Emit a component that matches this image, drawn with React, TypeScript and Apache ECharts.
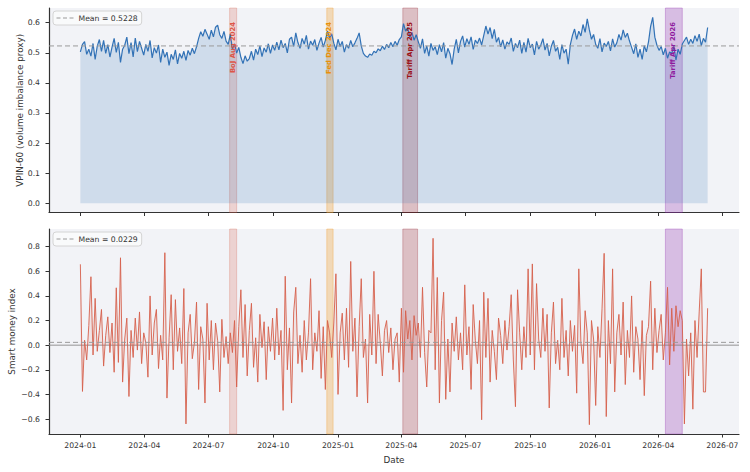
import React, { useEffect, useRef } from "react";
import * as echarts from "echarts";

// Observations every 3 calendar days starting 2024-01-01
const START_Y = 2024;
const START_M = 0;
const START_D = 1;
const STEP_DAYS = 3;

// VPIN-60 (volume imbalance proxy)
const vpin = [
  0.503, 0.528, 0.537, 0.495, 0.512, 0.489, 0.531, 0.478, 0.522, 0.544,
  0.505, 0.541, 0.498, 0.527, 0.486, 0.519, 0.548, 0.501, 0.535, 0.468,
  0.512, 0.525, 0.552, 0.497, 0.534, 0.486, 0.549, 0.504, 0.538, 0.515,
  0.492, 0.528, 0.505, 0.541, 0.483, 0.517, 0.499, 0.526, 0.468, 0.512,
  0.485, 0.502, 0.458, 0.495, 0.478, 0.510, 0.463, 0.498, 0.482, 0.505,
  0.475, 0.508, 0.492, 0.515, 0.497, 0.520, 0.548, 0.570, 0.555, 0.578,
  0.562, 0.545, 0.575, 0.553, 0.585, 0.592, 0.560, 0.548, 0.571, 0.539,
  0.528, 0.562, 0.512, 0.530, 0.499, 0.518, 0.485, 0.464, 0.490, 0.472,
  0.481, 0.505, 0.476, 0.512, 0.494, 0.523, 0.487, 0.516, 0.502, 0.530,
  0.498, 0.526, 0.508, 0.535, 0.510, 0.542, 0.517, 0.531, 0.500, 0.545,
  0.552, 0.521, 0.566, 0.534, 0.515, 0.548, 0.529, 0.558, 0.512, 0.539,
  0.525, 0.544, 0.508, 0.532, 0.551, 0.519, 0.541, 0.572, 0.548, 0.563,
  0.532, 0.510, 0.545, 0.521, 0.538, 0.502, 0.527, 0.515, 0.541, 0.520,
  0.533, 0.548, 0.566, 0.523, 0.498, 0.489, 0.485, 0.496, 0.492, 0.505,
  0.500, 0.513, 0.507, 0.522, 0.511, 0.528, 0.517, 0.534, 0.520, 0.538,
  0.525, 0.544, 0.553, 0.597, 0.572, 0.584, 0.551, 0.568, 0.542, 0.560,
  0.537, 0.515, 0.546, 0.498, 0.523, 0.489, 0.531, 0.508, 0.520, 0.494,
  0.527, 0.503, 0.534, 0.482, 0.515, 0.497, 0.461, 0.512, 0.545, 0.500,
  0.538, 0.556, 0.519, 0.547, 0.528, 0.553, 0.511, 0.542, 0.531, 0.549,
  0.526, 0.558, 0.589, 0.562, 0.584, 0.547, 0.578, 0.535, 0.551, 0.520,
  0.543, 0.512, 0.536, 0.528, 0.549, 0.505, 0.531, 0.517, 0.542, 0.498,
  0.535, 0.502, 0.548, 0.517, 0.529, 0.493, 0.538, 0.512, 0.526, 0.547,
  0.509, 0.531, 0.490, 0.522, 0.541, 0.505, 0.518, 0.478, 0.527, 0.499,
  0.512, 0.462, 0.527, 0.558, 0.579, 0.545, 0.572, 0.556, 0.594, 0.568,
  0.613, 0.576, 0.545, 0.561, 0.528, 0.515, 0.547, 0.503, 0.532, 0.521,
  0.538, 0.506, 0.546, 0.519, 0.533, 0.561, 0.542, 0.576, 0.551, 0.565,
  0.539, 0.518, 0.497, 0.530, 0.485, 0.512, 0.478, 0.524, 0.503, 0.536,
  0.588, 0.618, 0.552, 0.525, 0.508, 0.521, 0.493, 0.515, 0.482, 0.503,
  0.498, 0.523, 0.476, 0.512, 0.495, 0.529, 0.541, 0.552, 0.528, 0.545,
  0.531, 0.557, 0.538, 0.562, 0.524, 0.548, 0.535, 0.584,
];

// Smart money index
const smartMoney = [
  0.657, -0.376, 0.04, -0.12, 0.16, 0.556, -0.08, 0.38, -0.05, 0.12,
  0.29, -0.17, 0.08, 0.23, -0.06, 0.18, -0.22, 0.466, -0.14, 0.71,
  -0.3, 0.05, 0.22, -0.417, 0.12, -0.1, 0.22, -0.04, 0.27, -0.15,
  0.1, 0.02, -0.26, 0.4, -0.08, 0.18, 0.29, -0.19, 0.08, -0.12,
  0.751, -0.43, 0.06, 0.41, -0.2, 0.37, -0.05, 0.14, -0.15, 0.46,
  -0.64, 0.1, 0.25, -0.11, 0.02, 0.35, -0.36, 0.15, 0.05, -0.47,
  0.34, -0.12, 0.2, -0.2, 0.18, 0.04, -0.38, 0.21, -0.1, 0.07,
  -0.15, 0.1, -0.06, 0.2, -0.34, 0.15, 0.45, -0.1, 0.33, -0.25,
  0.12, 0.34, -0.18, 0.06, -0.3, 0.25, -0.02, 0.19, -0.28, 0.15,
  -0.05, 0.22, -0.12, 0.3, -0.08, 0.12, -0.53, 0.56, -0.2, 0.14,
  -0.47, 0.27, 0.47, -0.15, 0.08, -0.22, 0.2, -0.12, 0.1, 0.54,
  -0.2, 0.1, -0.05, 0.28, -0.27, 0.15, -0.36, 0.2, 0.1, -0.1,
  0.18, 0.58, -0.4, 0.1, 0.26, -0.12, 0.3, -0.18, 0.68, -0.05,
  0.22, -0.42, 0.15, 0.54, -0.1, 0.05, -0.47, 0.25, -0.08, 0.6,
  -0.15, 0.25, 0.02, -0.25, 0.12, 0.2, -0.06, 0.14, -0.2, 0.05,
  0.1, -0.3, 0.3, -0.22, 0.28, 0.05, 0.2, -0.12, 0.24, 0.08,
  0.18, -0.1, 0.47, -0.06, -0.34, 0.12, 0.1, 0.868, -0.2, 0.55,
  -0.47, 0.2, 0.43, -0.44, 0.05, -0.38, 0.18, -0.05, 0.23, -0.12,
  0.1, -0.2, 0.49, -0.08, 0.15, -0.36, 0.33, 0.04, -0.15, 0.2,
  -0.606, 0.43, -0.1, 0.38, -0.3, 0.12, -0.05, -0.28, 0.22, 0.08,
  -0.15, 0.2, -0.04, 0.15, 0.41, -0.12, -0.5, 0.45, 0.1, -0.2,
  0.15, -0.1, 0.62, -0.08, 0.66, -0.2, 0.5, 0.05, -0.1, 0.3,
  -0.05, 0.25, -0.51, 0.1, 0.35, -0.15, 0.04, -0.2, 0.38, -0.1,
  0.12, -0.25, 0.2, -0.05, 0.16, -0.39, 0.62, 0.02, -0.15, 0.28,
  0.1, -0.646, 0.2, 0.05, -0.49, 0.15, -0.1, 0.3, 0.746, -0.58,
  0.2, -0.15, 0.62, -0.38, 0.1, 0.25, -0.08, 0.35, -0.32, 0.12,
  -0.1, 0.4, -0.22, 0.15, 0.05, -0.28, 0.2, -0.41, 0.08, 0.15,
  0.52, -0.2, 0.3, -0.06, 0.12, 0.25, -0.12, 0.1, 0.47, -0.16,
  0.3, -0.05, 0.32, 0.15, 0.28, 0.2, -0.64, 0.05, -0.25, 0.1,
  -0.52, 0.2, -0.1, 0.27, 0.62, -0.38, -0.38, 0.3,
];

const VPIN_MEAN = 0.5228;
const SMI_MEAN = 0.0229;

// Market events shaded on both panels
const eventNames = ["BoJ Aug 2024", "Fed Dec 2024", "Tariff Apr 2025", "Tariff Apr 2026"];
const eventStarts = ["2024-07-31", "2024-12-16", "2025-04-03", "2026-04-11"];
const eventEnds = ["2024-08-10", "2024-12-25", "2025-04-24", "2026-05-05"];

// Axis ticks
const dateTicks = [
  "2024-01-01", "2024-04-01", "2024-07-01", "2024-10-01",
  "2025-01-01", "2025-04-01", "2025-07-01", "2025-10-01",
  "2026-01-01", "2026-04-01", "2026-07-01",
];
const vpinTicks = [0, 0.1, 0.2, 0.3, 0.4, 0.5, 0.6];
const smiTicks = [-0.6, -0.4, -0.2, 0, 0.2, 0.4, 0.6, 0.8];

// Styling
const FONT = "DejaVu Sans";
const INK = "#333333";
const PANEL_BG = "#f2f3f7";
const VPIN_COLOR = "#3272b6";
const SMI_COLOR = "#d6604d";
const MEAN_COLOR = "#9a9a9a";
const bandColors = [
  "rgba(214,96,77,0.22)",
  "rgba(240,160,50,0.32)",
  "rgba(150,25,35,0.24)",
  "rgba(145,45,175,0.27)",
];
const bandEdgeColors = [
  "rgba(214,96,77,0.35)",
  "rgba(240,160,50,0.45)",
  "rgba(150,25,35,0.35)",
  "rgba(145,45,175,0.4)",
];
const labelColors = ["#dd5548", "#e8900c", "#9b1118", "#8e1a9e"];

const DAY = 86400000;
const toTs = (s: string) => {
  const [y, m, d] = s.split("-").map(Number);
  return new Date(y, m - 1, d).getTime();
};
const pad2 = (n: number) => (n < 10 ? "0" + n : "" + n);
const fmtMonth = (v: number) => {
  const d = new Date(v);
  return `${d.getFullYear()}-${pad2(d.getMonth() + 1)}`;
};
const fmtNum = (v: number, digits: number) => {
  const s = Math.abs(v) < 1e-9 ? (0).toFixed(digits) : Math.abs(v).toFixed(digits);
  return v < -1e-9 ? "\u2212" + s : s;
};

const dateAt = (i: number) =>
  new Date(START_Y, START_M, START_D + STEP_DAYS * i).getTime();

export default function App() {
  const ref = useRef<HTMLDivElement>(null);

  useEffect(() => {
    if (!ref.current) return;
    const chart = echarts.init(ref.current, undefined, { renderer: "svg" });

    const times = vpin.map((_, i) => dateAt(i));
    const t0 = times[0];
    const t1 = times[times.length - 1];
    const xPad = (t1 - t0) * 0.05;
    const xMin = t0 - xPad;
    const xMax = t1 + xPad;

    const vHi = Math.max(...vpin);
    const vLo = 0;
    const vMargin = (vHi - vLo) * 0.05;
    const sHi = Math.max(...smartMoney);
    const sLo = Math.min(...smartMoney);
    const sMargin = (sHi - sLo) * 0.05;

    const vpinData = vpin.map((v, i) => [times[i], v]);
    const smiData = smartMoney.map((v, i) => [times[i], v]);
    const tickTs = dateTicks.map(toTs);

    const bandData = eventNames.map((name, i) => [
      {
        name,
        xAxis: toTs(eventStarts[i]),
        itemStyle: { color: bandColors[i], borderColor: bandEdgeColors[i], borderWidth: 0.8 },
      },
      { xAxis: toTs(eventEnds[i]) },
    ]);
    const labelData = eventNames.map((_, i) => [
      (toTs(eventStarts[i]) + toTs(eventEnds[i])) / 2 - 0.8 * DAY,
      0.602,
      i,
    ]);

    const tickLabelStyle = { fontFamily: FONT, fontSize: 7.7, color: INK };
    const nameStyle = { fontFamily: FONT, fontSize: 8.8, color: INK };

    // Dates are plotted on a numeric (epoch ms) axis so that tick positions can be pinned
    const xAxisFor = (gi: number) => ({
      type: "value",
      gridIndex: gi,
      min: xMin,
      max: xMax,
      axisLine: { show: true, onZero: false, lineStyle: { color: INK, width: 1.2 } },
      axisTick: { show: true, length: 3.5, lineStyle: { color: INK, width: 1 }, customValues: tickTs },
      axisLabel: {
        show: gi === 1,
        customValues: tickTs,
        formatter: (v: number) => fmtMonth(v),
        margin: 7,
        hideOverlap: false,
        showMinLabel: true,
        showMaxLabel: true,
        ...tickLabelStyle,
      },
      splitLine: { show: false },
      name: gi === 1 ? "Date" : "",
      nameLocation: "middle",
      nameGap: 21,
      nameMoveOverlap: false,
      nameTextStyle: nameStyle,
    });

    const yAxisFor = (gi: number, lo: number, hi: number, ticks: number[], digits: number, name: string, gap: number) => ({
      type: "value",
      gridIndex: gi,
      min: lo,
      max: hi,
      axisLine: { show: true, onZero: false, lineStyle: { color: INK, width: 1.2 } },
      axisTick: { show: true, length: 3.5, lineStyle: { color: INK, width: 1 }, customValues: ticks },
      axisLabel: {
        customValues: ticks,
        formatter: (v: number) => fmtNum(v, digits),
        margin: 9,
        showMinLabel: true,
        showMaxLabel: true,
        ...tickLabelStyle,
      },
      splitLine: { show: false },
      name,
      nameLocation: "middle",
      nameGap: gap,
      nameMoveOverlap: false,
      nameTextStyle: nameStyle,
    });

    const legendFor = (name: string, top: number) => ({
      data: [name],
      left: 53,
      top,
      orient: "horizontal",
      itemWidth: 17,
      itemHeight: 8,
      padding: [3, 4, 3, 3],
      backgroundColor: "rgba(255,255,255,0.55)",
      borderColor: "#d4d4d4",
      borderWidth: 1,
      borderRadius: 3,
      selectedMode: false,
      itemStyle: { color: "rgba(0,0,0,0)", borderColor: "rgba(0,0,0,0)", borderWidth: 0 },
      lineStyle: { color: MEAN_COLOR, width: 1, type: [4, 2.5] },
      textStyle: { fontFamily: FONT, fontSize: 7.7, color: INK },
    });

    const gridBase = {
      left: 49,
      right: 11,
      show: true,
      backgroundColor: PANEL_BG,
      borderWidth: 0,
      containLabel: false,
      outerBoundsMode: "none",
    };

    const option = {
      animation: false,
      backgroundColor: "#ffffff",
      textStyle: { fontFamily: FONT },
      grid: [
        { ...gridBase, top: 8, height: 204.5 },
        { ...gridBase, top: 229, height: 205 },
      ],
      xAxis: [xAxisFor(0), xAxisFor(1)],
      yAxis: [
        yAxisFor(0, vLo - vMargin, vHi + vMargin, vpinTicks, 1, "VPIN-60 (volume imbalance proxy)", 25),
        yAxisFor(1, sLo - sMargin, sHi + sMargin, smiTicks, 1, "Smart money index", 33),
      ],
      legend: [legendFor(`Mean = ${VPIN_MEAN.toFixed(4)}`, 11), legendFor(`Mean = ${SMI_MEAN.toFixed(4)}`, 232)],
      series: [
        // ---- top panel ----
        {
          name: "vpin-fill",
          type: "line",
          xAxisIndex: 0,
          yAxisIndex: 0,
          data: vpinData,
          symbol: "none",
          silent: true,
          lineStyle: { width: 0, opacity: 0 },
          areaStyle: { color: "rgba(46,111,180,0.25)", origin: 0 },
          z: 1,
        },
        {
          name: "vpin-events",
          type: "line",
          xAxisIndex: 0,
          yAxisIndex: 0,
          data: vpinData,
          symbol: "none",
          silent: true,
          lineStyle: { opacity: 0 },
          markArea: { silent: true, label: { show: false }, data: bandData },
          z: 2,
        },
        {
          name: "VPIN-60",
          type: "line",
          xAxisIndex: 0,
          yAxisIndex: 0,
          data: vpinData,
          symbol: "none",
          lineStyle: { color: VPIN_COLOR, width: 1.2 },
          z: 3,
        },
        {
          name: `Mean = ${VPIN_MEAN.toFixed(4)}`,
          type: "line",
          xAxisIndex: 0,
          yAxisIndex: 0,
          data: [[xMin, VPIN_MEAN], [xMax, VPIN_MEAN]],
          symbol: "none",
          itemStyle: { color: MEAN_COLOR },
          lineStyle: { color: MEAN_COLOR, width: 1, type: [5, 3] },
          z: 4,
        },
        {
          name: "event-labels",
          type: "custom",
          xAxisIndex: 0,
          yAxisIndex: 0,
          data: labelData,
          encode: { x: 0, y: 1 },
          clip: false,
          silent: true,
          z: 6,
          renderItem: (params: any, api: any) => {
            const p = api.coord([api.value(0), api.value(1)]);
            const idx = api.value(2);
            return {
              type: "text",
              x: p[0],
              y: p[1],
              rotation: Math.PI / 2,
              style: {
                text: eventNames[idx],
                fill: labelColors[idx],
                fontFamily: FONT,
                fontWeight: "bold",
                fontSize: 6.8,
                align: "right",
                verticalAlign: "middle",
              },
            };
          },
        },
        // ---- bottom panel ----
        {
          name: "zero",
          type: "line",
          xAxisIndex: 1,
          yAxisIndex: 1,
          data: [[xMin, 0], [xMax, 0]],
          symbol: "none",
          silent: true,
          lineStyle: { color: "#8a8a8a", width: 0.9 },
          z: 1,
        },
        {
          name: "smi-events",
          type: "line",
          xAxisIndex: 1,
          yAxisIndex: 1,
          data: smiData,
          symbol: "none",
          silent: true,
          lineStyle: { opacity: 0 },
          markArea: { silent: true, label: { show: false }, data: bandData },
          z: 2,
        },
        {
          name: "Smart money index",
          type: "line",
          xAxisIndex: 1,
          yAxisIndex: 1,
          data: smiData,
          symbol: "none",
          lineStyle: { color: SMI_COLOR, width: 1, opacity: 0.9 },
          areaStyle: { color: "rgba(214,96,77,0.15)", origin: 0 },
          z: 3,
        },
        {
          name: `Mean = ${SMI_MEAN.toFixed(4)}`,
          type: "line",
          xAxisIndex: 1,
          yAxisIndex: 1,
          data: [[xMin, SMI_MEAN], [xMax, SMI_MEAN]],
          symbol: "none",
          itemStyle: { color: MEAN_COLOR },
          lineStyle: { color: MEAN_COLOR, width: 1, type: [5, 3] },
          z: 4,
        },
      ],
    };

    chart.setOption(option as any);
    return () => chart.dispose();
  }, []);

  return (
    <div
      ref={ref}
      style={{ position: "fixed", left: 0, top: 0, width: 750, height: 472, background: "#ffffff" }}
    />
  );
}
